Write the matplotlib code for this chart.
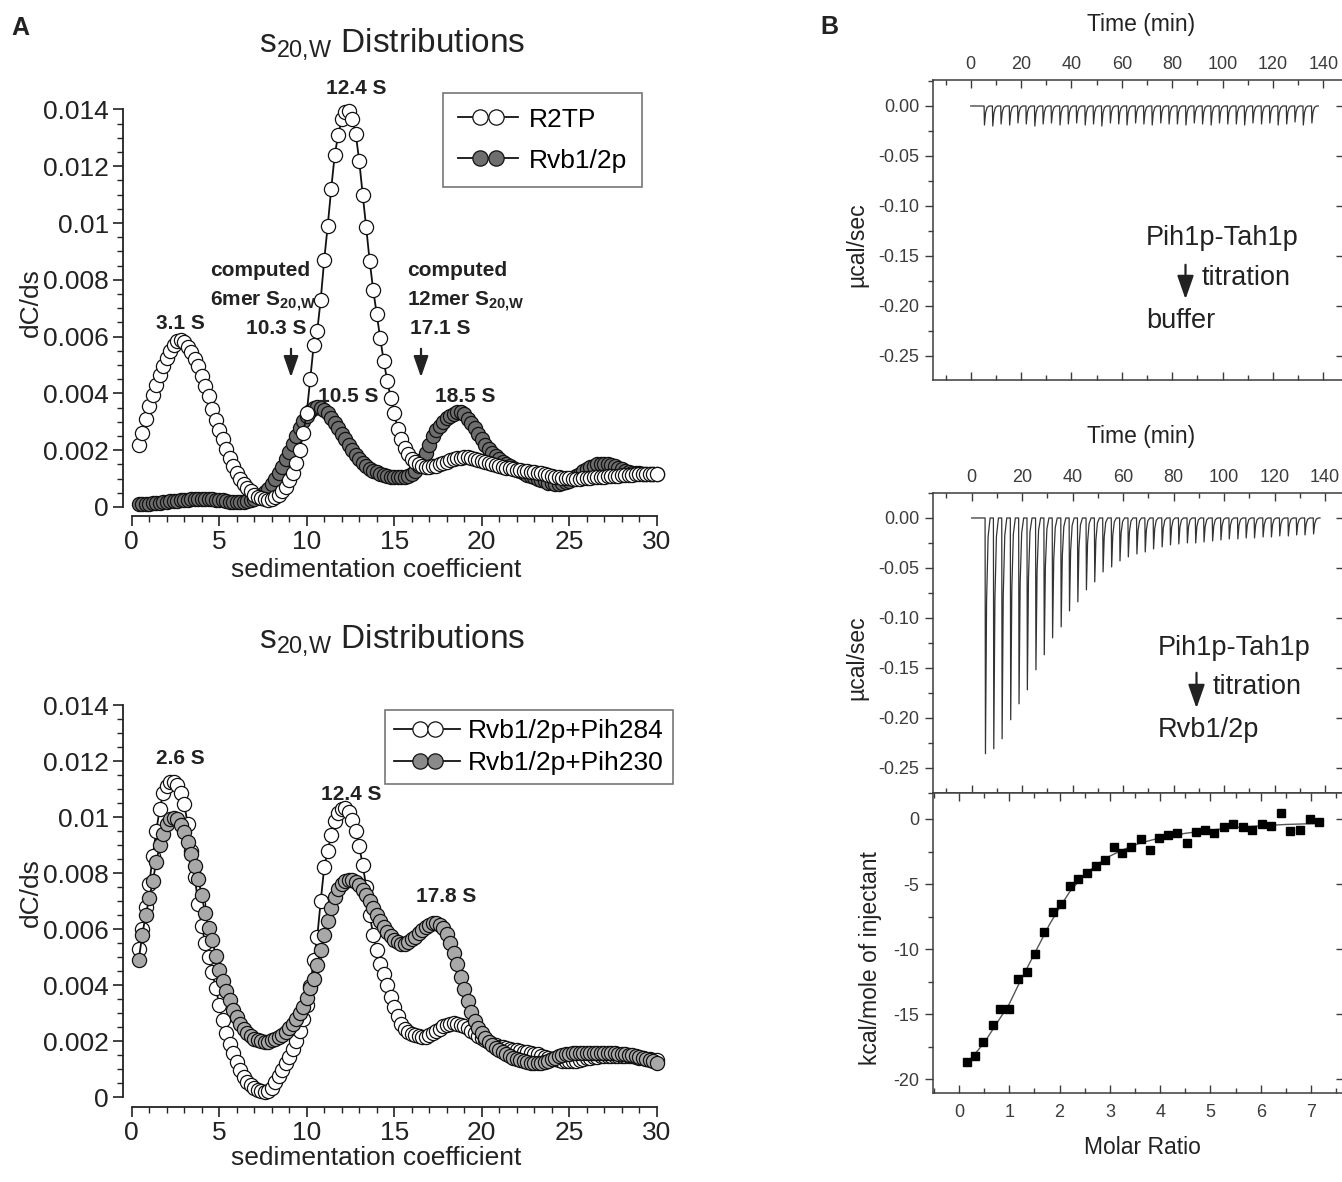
import numpy as np
import matplotlib.pyplot as plt
from matplotlib.lines import Line2D
from matplotlib.patches import FancyArrowPatch
from matplotlib.legend_handler import HandlerBase
from matplotlib.ticker import MultipleLocator, FixedLocator, FormatStrFormatter, NullFormatter

plt.rcParams['font.family'] = ['Liberation Sans', 'DejaVu Sans']
plt.rcParams['mathtext.fontset'] = 'custom'
plt.rcParams['mathtext.rm'] = 'Liberation Sans'
plt.rcParams['mathtext.bf'] = 'Liberation Sans:bold'
plt.rcParams['axes.unicode_minus'] = False

INK = '#222222'
GREY = '#3c3c3c'

# ---------------- data: sedimentation velocity c(s), dC/ds in units of 1e-3 ----------------
s_grid = np.round(np.arange(0.4, 30.01, 0.2), 1)

r2tp = [2.2, 2.6, 3.1, 3.55, 3.95, 4.3, 4.65, 4.95, 5.25, 5.5,
        5.7, 5.85, 5.88, 5.8, 5.65, 5.45, 5.2, 4.95, 4.62, 4.27,
        3.9, 3.45, 3.05, 2.7, 2.4, 2.05, 1.72, 1.45, 1.2, 1.0,
        0.82, 0.68, 0.55, 0.44, 0.36, 0.3, 0.27, 0.26, 0.28, 0.34,
        0.42, 0.55, 0.72, 0.95, 1.2, 1.55, 2.0, 2.6, 3.3, 4.5,
        5.7, 6.2, 7.3, 8.7, 9.9, 11.2, 12.4, 13.1, 13.65, 13.9,
        13.95, 13.65, 13.15, 12.2, 11.0, 9.85, 8.65, 7.65, 6.8, 5.95,
        5.15, 4.45, 3.85, 3.3, 2.75, 2.38, 2.08, 1.85, 1.7, 1.58,
        1.5, 1.45, 1.42, 1.41, 1.43, 1.46, 1.5, 1.55, 1.6, 1.65,
        1.69, 1.72, 1.74, 1.75, 1.75, 1.73, 1.7, 1.67, 1.63, 1.6,
        1.56, 1.52, 1.48, 1.45, 1.42, 1.39, 1.36, 1.34, 1.32, 1.3,
        1.28, 1.26, 1.24, 1.22, 1.2, 1.18, 1.15, 1.12, 1.1, 1.07,
        1.05, 1.03, 1.02, 1.01, 1.0, 1.0, 1.0, 1.01, 1.02, 1.03,
        1.04, 1.05, 1.06, 1.07, 1.08, 1.09, 1.1, 1.1, 1.11, 1.12,
        1.13, 1.14, 1.15, 1.15, 1.16, 1.16, 1.16, 1.16, 1.16]

rvb12 = [0.10, 0.10, 0.11, 0.12, 0.13, 0.14, 0.15, 0.17, 0.18, 0.20,
         0.21, 0.22, 0.24, 0.25, 0.26, 0.27, 0.28, 0.28, 0.29, 0.29,
         0.28, 0.27, 0.26, 0.25, 0.23, 0.21, 0.19, 0.18, 0.17, 0.17,
         0.18, 0.20, 0.23, 0.28, 0.34, 0.42, 0.52, 0.65, 0.80, 0.97,
         1.18, 1.42, 1.68, 1.95, 2.22, 2.5, 2.78, 3.02, 3.22, 3.38,
         3.48, 3.52, 3.5, 3.42, 3.3, 3.14, 2.96, 2.78, 2.58, 2.38,
         2.18, 2.0, 1.83, 1.68, 1.55, 1.44, 1.35, 1.28, 1.22, 1.17,
         1.13, 1.1, 1.07, 1.05, 1.04, 1.04, 1.05, 1.09, 1.16, 1.28,
         1.44, 1.65, 1.9, 2.2, 2.5, 2.72, 2.85, 3.0, 3.12, 3.22,
         3.29, 3.33, 3.33, 3.28, 3.1, 2.95, 2.78, 2.58, 2.38, 2.2,
         2.04, 1.9, 1.78, 1.68, 1.6, 1.52, 1.45, 1.38, 1.32, 1.26,
         1.2, 1.14, 1.09, 1.04, 0.99, 0.94, 0.9, 0.86, 0.83, 0.81,
         0.81, 0.83, 0.87, 0.93, 1.0, 1.08, 1.17, 1.26, 1.34, 1.41,
         1.46, 1.5, 1.52, 1.52, 1.51, 1.48, 1.44, 1.39, 1.33, 1.28,
         1.24, 1.21, 1.19, 1.18, 1.17, 1.16, 1.16, 1.16, 1.16]

pih284 = [5.3, 6.0, 6.8, 7.6, 8.6, 9.5, 10.3, 10.85, 11.1, 11.25,
          11.25, 11.15, 10.85, 10.45, 9.75, 8.8, 7.85, 6.9, 6.1, 5.5,
          5.0, 4.45, 3.9, 3.3, 2.75, 2.3, 1.9, 1.57, 1.25, 0.97,
          0.72, 0.55, 0.42, 0.31, 0.24, 0.2, 0.19, 0.22, 0.33, 0.52,
          0.74, 0.98, 1.2, 1.42, 1.7, 2.0, 2.35, 2.8, 3.3, 3.95,
          4.9, 5.7, 7.0, 8.2, 8.8, 9.35, 9.85, 10.15, 10.3, 10.32,
          10.18, 9.9, 9.5, 8.95, 8.3, 7.5, 6.5, 5.8, 5.25, 4.75,
          4.38, 4.0, 3.58, 3.23, 2.88, 2.62, 2.43, 2.32, 2.25, 2.21,
          2.18, 2.16, 2.16, 2.2, 2.27, 2.35, 2.44, 2.53, 2.59, 2.62,
          2.63, 2.62, 2.58, 2.52, 2.45, 2.37, 2.28, 2.18, 2.1, 2.03,
          1.96, 1.9, 1.85, 1.8, 1.77, 1.74, 1.71, 1.69, 1.67, 1.65,
          1.62, 1.6, 1.57, 1.55, 1.52, 1.48, 1.44, 1.4, 1.37, 1.34,
          1.31, 1.29, 1.27, 1.27, 1.28, 1.3, 1.32, 1.35, 1.38, 1.4,
          1.42, 1.44, 1.45, 1.46, 1.47, 1.48, 1.48, 1.48, 1.48, 1.47,
          1.46, 1.45, 1.43, 1.41, 1.39, 1.37, 1.35, 1.33, 1.32]

pih230 = [4.9, 5.8, 6.5, 7.1, 7.7, 8.4, 9.0, 9.4, 9.75, 9.92,
          9.98, 9.92, 9.72, 9.45, 9.1, 8.68, 8.25, 7.8, 7.2, 6.56,
          6.05, 5.6, 5.05, 4.55, 4.15, 3.78, 3.45, 3.12, 2.86, 2.62,
          2.44, 2.3, 2.18, 2.08, 2.03, 2.0, 1.98, 1.98, 2.02, 2.08,
          2.14, 2.22, 2.33, 2.48, 2.62, 2.78, 3.0, 3.22, 3.55, 3.88,
          4.2, 4.72, 5.25, 5.78, 6.3, 6.75, 7.15, 7.42, 7.62, 7.72,
          7.76, 7.75, 7.68, 7.57, 7.4, 7.22, 7.0, 6.75, 6.5, 6.28,
          6.08, 5.9, 5.74, 5.6, 5.52, 5.48, 5.48, 5.54, 5.63, 5.73,
          5.85, 5.98, 6.08, 6.16, 6.2, 6.2, 6.14, 6.02, 5.82, 5.5,
          5.15, 4.75, 4.3, 3.85, 3.42, 3.05, 2.72, 2.48, 2.28, 2.12,
          1.98, 1.86, 1.76, 1.68, 1.6, 1.53, 1.47, 1.41, 1.36, 1.32,
          1.28, 1.24, 1.21, 1.2, 1.2, 1.22, 1.26, 1.3, 1.35, 1.4,
          1.45, 1.5, 1.53, 1.55, 1.56, 1.57, 1.57, 1.57, 1.57, 1.57,
          1.57, 1.57, 1.57, 1.57, 1.57, 1.56, 1.56, 1.55, 1.54, 1.53,
          1.51, 1.49, 1.46, 1.43, 1.39, 1.35, 1.31, 1.27, 1.23]

# ---------------- data: ITC ----------------
inj_times = [5.3, 8.6, 11.9, 15.3, 18.6, 21.9, 25.3, 28.6, 31.9, 35.3,
             38.6, 41.9, 45.3, 48.6, 51.9, 55.3, 58.6, 61.9, 65.3, 68.6,
             71.9, 75.3, 78.6, 81.9, 85.3, 88.6, 91.9, 95.3, 98.6, 101.9,
             105.3, 108.6, 111.9, 115.3, 118.6, 121.9, 125.3, 128.6, 131.9, 135.3]
buffer_peaks = [-0.019, -0.020, -0.018, -0.019, -0.017, -0.018, -0.020, -0.018, -0.017, -0.019,
                -0.018, -0.017, -0.019, -0.018, -0.020, -0.017, -0.018, -0.019, -0.017, -0.018,
                -0.019, -0.017, -0.018, -0.018, -0.019, -0.017, -0.018, -0.019, -0.017, -0.018,
                -0.018, -0.019, -0.017, -0.018, -0.017, -0.019, -0.018, -0.016, -0.019, -0.017]
rvb_peaks = [-0.236, -0.231, -0.221, -0.202, -0.186, -0.172, -0.152, -0.137, -0.120, -0.109,
             -0.093, -0.084, -0.072, -0.064, -0.054, -0.049, -0.043, -0.039, -0.036, -0.034,
             -0.031, -0.029, -0.027, -0.026, -0.025, -0.025, -0.024, -0.023, -0.022, -0.021,
             -0.021, -0.020, -0.020, -0.019, -0.019, -0.018, -0.018, -0.017, -0.017, -0.016]

molar_ratio = [0.15, 0.32, 0.48, 0.67, 0.82, 1.0, 1.17, 1.35, 1.51, 1.69,
               1.86, 2.03, 2.21, 2.37, 2.54, 2.72, 2.90, 3.09, 3.25, 3.43,
               3.62, 3.80, 3.98, 4.16, 4.34, 4.53, 4.71, 4.89, 5.08, 5.26,
               5.45, 5.64, 5.83, 6.02, 6.20, 6.40, 6.59, 6.78, 6.98, 7.16]
heat = [-18.69, -18.18, -17.11, -15.83, -14.62, -14.57, -12.32, -11.75, -10.35, -8.68,
        -7.14, -6.53, -5.15, -4.64, -4.12, -3.61, -3.18, -2.18, -2.64, -2.13,
        -1.56, -2.38, -1.49, -1.23, -1.05, -1.82, -0.97, -0.85, -1.10, -0.59,
        -0.38, -0.59, -0.85, -0.38, -0.51, 0.44, -0.90, -0.85, -0.03, -0.20]
fit_x = [0.15, 0.5, 0.8, 1.0, 1.2, 1.4, 1.6, 1.8, 2.0, 2.2, 2.4, 2.6,
         2.8, 3.0, 3.3, 3.6, 4.0, 4.5, 5.0, 5.5, 6.0, 6.5, 7.0, 7.17]
fit_y = [-18.8, -17.2, -15.4, -14.2, -12.6, -11.1, -9.6, -8.1, -6.8, -5.6, -4.7, -3.95,
         -3.35, -2.85, -2.3, -1.85, -1.45, -1.1, -0.85, -0.65, -0.52, -0.42, -0.36, -0.34]

# ---------------- figure ----------------
W, H = 1342, 1182
fig = plt.figure(figsize=(W / 100, H / 100), dpi=100)


def rect(l, t, r, b):
    return [l / W, 1 - b / H, (r - l) / W, (b - t) / H]


def fxy(x, y):
    return (x / W, 1 - y / H)


def ftext(x, y, s, **kw):
    kw.setdefault('ha', 'center')
    kw.setdefault('va', 'center')
    kw.setdefault('color', INK)
    fig.text(x / W, 1 - y / H, s, **kw)


def farrow(x, y0, y1, scale=16, color=INK):
    fig.add_artist(FancyArrowPatch(
        fxy(x, y0), fxy(x, y1), transform=fig.transFigure,
        arrowstyle='-|>,head_width=0.28,head_length=0.8',
        mutation_scale=scale, lw=1.6, color=color))


class TwoCircleHandler(HandlerBase):
    # legend key drawn as  -OO-  : a line with two touching circles in the middle
    def create_artists(self, legend, orig, xdescent, ydescent, width, height, fontsize, trans):
        yc = height / 2 - ydescent
        x0, x1 = -xdescent, -xdescent + width
        xc = (x0 + x1) / 2
        d = orig.get_markersize() * 0.5
        line = Line2D([x0, x1], [yc, yc], color=orig.get_color(), lw=orig.get_linewidth())
        dots = Line2D([xc - d, xc + d], [yc, yc], ls='none', marker='o',
                      ms=orig.get_markersize(), mfc=orig.get_markerfacecolor(),
                      mec=orig.get_markeredgecolor(), mew=orig.get_markeredgewidth())
        line.set_transform(trans)
        dots.set_transform(trans)
        return [line, dots]


def style_sed(ax, ylim):
    ax.set_xlim(-0.5, 30.65)
    ax.set_ylim(*ylim)
    ax.spines['top'].set_visible(False)
    ax.spines['right'].set_visible(False)
    ax.spines['left'].set_bounds(0, 0.014)
    ax.spines['bottom'].set_bounds(0, 30)
    for side in ('left', 'bottom'):
        ax.spines[side].set_linewidth(1.3)
        ax.spines[side].set_color(INK)
    ax.xaxis.set_major_locator(MultipleLocator(5))
    ax.xaxis.set_minor_locator(FixedLocator(np.arange(0, 30.01, 1)))
    ax.yaxis.set_major_locator(FixedLocator(np.arange(0, 0.01401, 0.002)))
    ax.yaxis.set_minor_locator(FixedLocator(np.arange(0, 0.01401, 0.0005)))
    ax.yaxis.set_major_formatter(FormatStrFormatter('%g'))
    ax.tick_params(which='major', length=7, width=1.2, labelsize=19, colors=INK, pad=3)
    ax.tick_params(which='minor', length=4, width=1.0, colors=INK)


def open_style(ms=10.2):
    return dict(marker='o', ms=ms, mfc='white', mec='#111111', mew=0.9,
                color='#111111', lw=1.3)


def filled_style(face, ms=10.2):
    return dict(marker='o', ms=ms, mfc=face, mec='#111111', mew=0.9,
                color='#111111', lw=1.3)


def add_legend(ax, handles, labels, anchor, **kw):
    leg = ax.legend(handles, labels, fontsize=19, loc='upper left',
                    bbox_to_anchor=fxy(*anchor), bbox_transform=fig.transFigure,
                    frameon=True, fancybox=False, edgecolor='#555555',
                    borderaxespad=0, handler_map={Line2D: TwoCircleHandler()}, **kw)
    leg.get_frame().set_linewidth(1.2)
    return leg


y = lambda v: np.asarray(v) * 1e-3

# ---- top left ----
ax1 = fig.add_axes(rect(123, 95, 668, 516))
style_sed(ax1, (-0.317e-3, 14.51e-3))
ax1.plot(s_grid, y(rvb12), **filled_style('#6e6e6e'), zorder=2)
ax1.plot(s_grid, y(r2tp), **open_style(), zorder=3)
add_legend(ax1, [Line2D([], [], **open_style(11)), Line2D([], [], **filled_style('#6e6e6e', 11))],
           ['R2TP', 'Rvb1/2p'], (443, 93), handlelength=2.3, handletextpad=0.4,
           labelspacing=0.65, borderpad=0.55)

ftext(392, 44, r'$\mathregular{s_{20{,}W}}$ Distributions', fontsize=24)
ftext(376, 570, 'sedimentation coefficient', fontsize=19)
ftext(31, 303, 'dC/ds', fontsize=19, rotation=90)
ftext(356, 88, '12.4 S', fontsize=15, weight='bold')
ftext(180, 324, '3.1 S', fontsize=15, weight='bold')
ftext(210, 270, 'computed', fontsize=15, weight='bold', ha='left')
ftext(210, 302, r'6mer S$_\mathregular{20{,}W}$', fontsize=15, weight='bold', ha='left')
ftext(276, 329, '10.3 S', fontsize=15, weight='bold')
ftext(348, 396, '10.5 S', fontsize=15, weight='bold')
ftext(407, 270, 'computed', fontsize=15, weight='bold', ha='left')
ftext(407, 302, r'12mer S$_\mathregular{20{,}W}$', fontsize=15, weight='bold', ha='left')
ftext(440, 329, '17.1 S', fontsize=15, weight='bold')
ftext(465, 396, '18.5 S', fontsize=15, weight='bold')
farrow(291, 346, 380)
farrow(421, 346, 380)

# ---- bottom left ----
ax2 = fig.add_axes(rect(123, 690, 668, 1107))
style_sed(ax2, (-0.357e-3, 14.54e-3))
ax2.plot(s_grid, y(pih284), **open_style(), zorder=2)
ax2.plot(s_grid, y(pih230), **filled_style('#a8a8a8'), zorder=3)
add_legend(ax2, [Line2D([], [], **open_style(11)), Line2D([], [], **filled_style('#8a8a8a', 11))],
           ['Rvb1/2p+Pih284', 'Rvb1/2p+Pih230'], (385, 710), handlelength=2.5,
           handletextpad=0.3, labelspacing=0.3, borderpad=0.35)

ftext(392, 640, r'$\mathregular{s_{20{,}W}}$ Distributions', fontsize=24)
ftext(376, 1158, 'sedimentation coefficient', fontsize=19)
ftext(31, 893, 'dC/ds', fontsize=19, rotation=90)
ftext(180, 758, '2.6 S', fontsize=15, weight='bold')
ftext(351, 794, '12.4 S', fontsize=15, weight='bold')
ftext(446, 897, '17.8 S', fontsize=15, weight='bold')

ftext(20, 28, 'A', fontsize=18, weight='bold')
ftext(829, 27, 'B', fontsize=18, weight='bold')


# ---------------- ITC panels ----------------
def style_itc(ax, xlim, ylim):
    ax.set_xlim(*xlim)
    ax.set_ylim(*ylim)
    for sp in ax.spines.values():
        sp.set_linewidth(1.1)
        sp.set_color(GREY)
    ax.tick_params(which='both', colors=GREY, labelsize=13, width=1.0)
    ax.tick_params(which='major', length=6)
    ax.tick_params(which='minor', length=3.5)
    ax.tick_params(axis='y', which='both', direction='out', right=False)
    ax.tick_params(axis='x', which='both', direction='in', top=True, bottom=True)
    sec = ax.secondary_yaxis('right')
    sec.yaxis.set_major_locator(ax.yaxis.get_major_locator())
    sec.yaxis.set_major_formatter(NullFormatter())
    sec.tick_params(direction='in', length=6, width=1.0, colors=GREY)
    sec.spines['right'].set_visible(False)


def itc_trace(ax, times, peaks, t_end):
    xs, ys = [0.0], [0.0]
    for t, p in zip(times, peaks):
        xs += [t, t + 0.15, t + 0.6, t + 1.2, t + 2.0]
        ys += [0.0, p, 0.35 * p, 0.08 * p, 0.0]
    xs.append(t_end)
    ys.append(0.0)
    ax.plot(xs, ys, color='#333333', lw=0.9)


def time_axis(ax):
    ax.xaxis.set_major_locator(MultipleLocator(20))
    ax.xaxis.set_minor_locator(MultipleLocator(10))
    ax.tick_params(axis='x', labeltop=True, labelbottom=False, pad=5)
    ax.yaxis.set_major_locator(MultipleLocator(0.05))
    ax.yaxis.set_minor_locator(MultipleLocator(0.025))
    ax.yaxis.set_major_formatter(FormatStrFormatter('%.2f'))


ax3 = fig.add_axes(rect(932.7, 80, 1344, 380))
time_axis(ax3)
style_itc(ax3, (-15.1, 148.2), (-0.274, 0.026))
itc_trace(ax3, inj_times, buffer_peaks, 138)
ftext(1141, 25, 'Time (min)', fontsize=16.5)
ftext(857, 245, 'µcal/sec', fontsize=16.5, rotation=90)
ftext(1146, 238, 'Pih1p-Tah1p', fontsize=19.5, ha='left')
ftext(1202, 278, 'titration', fontsize=19.5, ha='left')
ftext(1146, 321, 'buffer', fontsize=19.5, ha='left')
farrow(1185.5, 262, 302, scale=18)

ax4 = fig.add_axes(rect(932.7, 492.7, 1344, 792.7))
time_axis(ax4)
style_itc(ax4, (-15.45, 147.5), (-0.275, 0.0253))
itc_trace(ax4, inj_times, rvb_peaks, 138)
ftext(1141, 437, 'Time (min)', fontsize=16.5)
ftext(857, 658, 'µcal/sec', fontsize=16.5, rotation=90)
ftext(1158, 648, 'Pih1p-Tah1p', fontsize=19.5, ha='left')
ftext(1213, 687, 'titration', fontsize=19.5, ha='left')
ftext(1158, 730, 'Rvb1/2p', fontsize=19.5, ha='left')
farrow(1196.5, 670, 711, scale=18)

ax5 = fig.add_axes(rect(932.7, 792.7, 1344, 1093.3))
ax5.xaxis.set_major_locator(MultipleLocator(1))
ax5.xaxis.set_minor_locator(MultipleLocator(0.5))
ax5.yaxis.set_major_locator(MultipleLocator(5))
ax5.yaxis.set_minor_locator(MultipleLocator(2.5))
style_itc(ax5, (-0.523, 7.656), (-21.07, 2.02))
ax5.tick_params(axis='x', pad=8)
ax5.plot(fit_x, fit_y, color='#555555', lw=1.0, zorder=2)
ax5.plot(molar_ratio, heat, ls='none', marker='s', ms=6.2, color='black', zorder=3)
ftext(1142, 1148, 'Molar Ratio', fontsize=16.5)
ftext(870, 958, 'kcal/mole of injectant', fontsize=16.5, rotation=90)

fig.savefig('out.png', dpi=100)
